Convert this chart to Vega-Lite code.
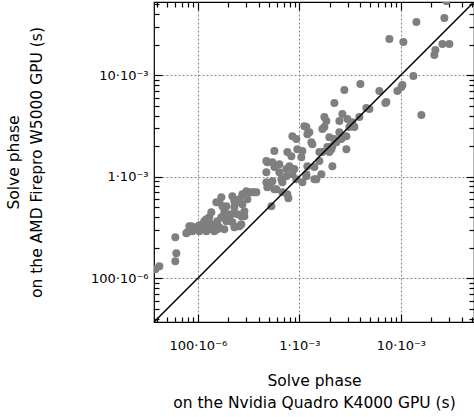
{
  "$schema": "https://vega.github.io/schema/vega-lite/v6.json",
  "width": 320,
  "height": 320,
  "autosize": {"type": "none"},
  "padding": {"left": 154, "top": 2, "right": 0, "bottom": 95},
  "background": "white",
  "config": {
    "view": {"stroke": "#000", "strokeWidth": 1.2},
    "axis": {
      "labelFont": "DejaVu Sans",
      "titleFont": "DejaVu Sans",
      "labelFontSize": 13,
      "titleFontSize": 15.5,
      "titleFontWeight": "normal",
      "labelColor": "#000",
      "titleColor": "#000",
      "tickColor": "#000",
      "tickWidth": 1.2
    }
  },
  "datasets": {
    "pts": [
      {"k": 3.81e-5, "a": 1.227e-4},
      {"k": 4.18e-5, "a": 1.313e-4},
      {"k": 6.00e-5, "a": 2.535e-4},
      {"k": 6.14e-5, "a": 1.763e-4},
      {"k": 6.00e-5, "a": 1.471e-4},
      {"k": 7.70e-5, "a": 2.776e-4},
      {"k": 8.63e-5, "a": 3.254e-4},
      {"k": 8.83e-5, "a": 2.905e-4},
      {"k": 1.159e-4, "a": 3.644e-4},
      {"k": 1.159e-4, "a": 3.040e-4},
      {"k": 1.240e-4, "a": 3.563e-4},
      {"k": 1.389e-4, "a": 3.404e-4},
      {"k": 1.454e-4, "a": 2.905e-4},
      {"k": 1.628e-4, "a": 3.181e-4},
      {"k": 1.909e-4, "a": 3.644e-4},
      {"k": 2.187e-4, "a": 3.563e-4},
      {"k": 2.564e-4, "a": 3.254e-4},
      {"k": 1.035e-4, "a": 3.329e-4},
      {"k": 1.298e-4, "a": 3.990e-4},
      {"k": 9.45e-5, "a": 3.181e-4},
      {"k": 1.213e-4, "a": 3.813e-4},
      {"k": 1.522e-4, "a": 5.607e-4},
      {"k": 1.704e-4, "a": 6.281e-4},
      {"k": 1.744e-4, "a": 5.121e-4},
      {"k": 1.824e-4, "a": 4.469e-4},
      {"k": 2.187e-4, "a": 6.426e-4},
      {"k": 2.289e-4, "a": 5.006e-4},
      {"k": 2.564e-4, "a": 6.003e-4},
      {"k": 2.744e-4, "a": 6.724e-4},
      {"k": 3.217e-4, "a": 7.036e-4},
      {"k": 3.604e-4, "a": 7.036e-4},
      {"k": 2.683e-4, "a": 3.404e-4},
      {"k": 2.683e-4, "a": 4.082e-4},
      {"k": 2.043e-4, "a": 3.813e-4},
      {"k": 1.556e-4, "a": 3.040e-4},
      {"k": 1.909e-4, "a": 5.121e-4},
      {"k": 1.628e-4, "a": 5.607e-4},
      {"k": 2.289e-4, "a": 5.736e-4},
      {"k": 2.744e-4, "a": 5.359e-4},
      {"k": 2.872e-4, "a": 4.082e-4},
      {"k": 1.358e-4, "a": 4.469e-4},
      {"k": 1.953e-4, "a": 4.271e-4},
      {"k": 4.731e-4, "a": 1.107e-3},
      {"k": 4.839e-4, "a": 1.389e-3},
      {"k": 5.672e-4, "a": 1.241e-3},
      {"k": 6.353e-4, "a": 1.328e-3},
      {"k": 7.447e-4, "a": 1.186e-3},
      {"k": 6.648e-4, "a": 9.449e-4},
      {"k": 5.064e-4, "a": 8.060e-4},
      {"k": 5.672e-4, "a": 7.531e-4},
      {"k": 6.801e-4, "a": 7.036e-4},
      {"k": 5.299e-4, "a": 5.121e-4},
      {"k": 3.005e-4, "a": 7.197e-4},
      {"k": 3.443e-4, "a": 7.036e-4},
      {"k": 4.731e-4, "a": 8.829e-4},
      {"k": 5.420e-4, "a": 9.032e-4},
      {"k": 5.935e-4, "a": 7.531e-4},
      {"k": 7.618e-4, "a": 6.724e-4},
      {"k": 6.353e-4, "a": 1.107e-3},
      {"k": 7.447e-4, "a": 1.011e-3},
      {"k": 8.533e-4, "a": 1.058e-3},
      {"k": 4.731e-4, "a": 1.422e-3},
      {"k": 5.420e-4, "a": 1.389e-3},
      {"k": 7.972e-4, "a": 1.269e-3},
      {"k": 8.929e-4, "a": 1.186e-3},
      {"k": 5.672e-4, "a": 1.784e-3},
      {"k": 7.618e-4, "a": 1.744e-3},
      {"k": 8.342e-4, "a": 1.592e-3},
      {"k": 9.557e-4, "a": 1.866e-3},
      {"k": 1.046e-3, "a": 1.556e-3},
      {"k": 1.199e-3, "a": 1.269e-3},
      {"k": 1.405e-3, "a": 1.241e-3},
      {"k": 1.574e-3, "a": 1.422e-3},
      {"k": 1.685e-3, "a": 1.744e-3},
      {"k": 1.888e-3, "a": 1.953e-3},
      {"k": 1.471e-3, "a": 9.449e-4},
      {"k": 1.172e-3, "a": 1.011e-3},
      {"k": 1.071e-3, "a": 8.829e-4},
      {"k": 8.533e-4, "a": 2.506e-3},
      {"k": 1.172e-3, "a": 3.074e-3},
      {"k": 1.199e-3, "a": 2.622e-3},
      {"k": 1.313e-3, "a": 2.187e-3},
      {"k": 1.764e-3, "a": 3.074e-3},
      {"k": 1.975e-3, "a": 2.450e-3},
      {"k": 1.845e-3, "a": 3.523e-3},
      {"k": 2.315e-3, "a": 2.187e-3},
      {"k": 9.342e-4, "a": 2.342e-3},
      {"k": 2.213e-3, "a": 5.299e-3},
      {"k": 2.652e-3, "a": 4.129e-3},
      {"k": 2.971e-3, "a": 3.686e-3},
      {"k": 3.254e-3, "a": 3.290e-3},
      {"k": 3.484e-3, "a": 3.074e-3},
      {"k": 2.905e-3, "a": 2.506e-3},
      {"k": 2.478e-3, "a": 2.744e-3},
      {"k": 2.213e-3, "a": 2.342e-3},
      {"k": 1.685e-3, "a": 2.938e-3},
      {"k": 1.255e-3, "a": 2.744e-3},
      {"k": 1.343e-3, "a": 2.090e-3},
      {"k": 2.067e-3, "a": 1.866e-3},
      {"k": 2.593e-3, "a": 2.342e-3},
      {"k": 2.905e-3, "a": 1.866e-3},
      {"k": 1.574e-3, "a": 1.744e-3},
      {"k": 1.071e-3, "a": 1.784e-3},
      {"k": 2.114e-3, "a": 1.998e-3},
      {"k": 3.990e-3, "a": 8.154e-3},
      {"k": 2.775e-3, "a": 7.117e-3},
      {"k": 6.141e-3, "a": 6.957e-3},
      {"k": 9.236e-3, "a": 6.957e-3},
      {"k": 7.197e-3, "a": 5.420e-3},
      {"k": 4.573e-3, "a": 4.731e-3},
      {"k": 1.764e-3, "a": 3.857e-3},
      {"k": 2.478e-3, "a": 3.523e-3},
      {"k": 3.900e-3, "a": 3.857e-3},
      {"k": 1.120e-3, "a": 3.144e-3},
      {"k": 1.975e-3, "a": 1.744e-3},
      {"k": 2.808e-2, "a": 5.359e-2},
      {"k": 1.422e-2, "a": 3.329e-2},
      {"k": 2.683e-2, "a": 3.644e-2},
      {"k": 7.702e-3, "a": 2.263e-2},
      {"k": 1.058e-2, "a": 2.114e-2},
      {"k": 2.564e-2, "a": 2.020e-2},
      {"k": 3.005e-2, "a": 2.020e-2},
      {"k": 2.187e-2, "a": 1.764e-2},
      {"k": 2.138e-2, "a": 1.574e-2},
      {"k": 1.328e-2, "a": 9.774e-3},
      {"k": 1.035e-2, "a": 7.972e-3},
      {"k": 1.011e-2, "a": 7.618e-3},
      {"k": 7.036e-3, "a": 5.299e-3},
      {"k": 1.592e-2, "a": 4.036e-3},
      {"k": 4.895e-3, "a": 4.624e-3},
      {"k": 7.793e-4, "a": 6.141e-4},
      {"k": 2.114e-3, "a": 1.269e-3},
      {"k": 1.647e-3, "a": 1.058e-3},
      {"k": 9.342e-4, "a": 9.449e-4},
      {"k": 2.395e-4, "a": 5.607e-4},
      {"k": 2.872e-4, "a": 4.573e-4},
      {"k": 3.074e-4, "a": 6.003e-4},
      {"k": 3.771e-4, "a": 7.036e-4},
      {"k": 2.138e-4, "a": 4.271e-4},
      {"k": 8.25e-5, "a": 3.254e-4},
      {"k": 7.88e-5, "a": 2.840e-4},
      {"k": 1.213e-4, "a": 2.905e-4},
      {"k": 3.329e-3, "a": 3.443e-3},
      {"k": 3.109e-3, "a": 3.074e-3},
      {"k": 1.172e-3, "a": 1.058e-3},
      {"k": 1.405e-3, "a": 9.449e-4},
      {"k": 6.801e-4, "a": 8.829e-4},
      {"k": 4.839e-4, "a": 7.879e-4},
      {"k": 1.107e-4, "a": 3.404e-4},
      {"k": 1.298e-4, "a": 3.040e-4},
      {"k": 1.556e-4, "a": 3.644e-4},
      {"k": 1.824e-4, "a": 3.040e-4},
      {"k": 2.289e-4, "a": 3.181e-4},
      {"k": 1.035e-4, "a": 2.905e-4},
      {"k": 2.450e-4, "a": 4.271e-4},
      {"k": 1.704e-4, "a": 3.990e-4}
    ],
    "diag": [
      {"k": 3.7e-5, "a": 3.7e-5},
      {"k": 0.0525, "a": 0.0525}
    ]
  },
  "layer": [
    {
      "data": {"name": "pts"},
      "mark": {"type": "circle", "size": 64, "color": "#7f7f7f", "opacity": 1, "clip": true},
      "encoding": {
        "x": {
          "field": "k", "type": "quantitative",
          "scale": {"type": "log", "domain": [3.7e-5, 0.0525], "nice": false},
          "axis": {
            "orient": "bottom",
            "title": ["Solve phase", "on the Nvidia Quadro K4000 GPU (s)"],
            "titlePadding": 21,
            "titleLineHeight": 22,
            "values": [0.0001, 0.001, 0.01],
            "labelExpr": "abs(datum.value-0.0001)<1e-9 ? '100·10⁻⁶' : (abs(datum.value-0.001)<1e-9 ? '1·10⁻³' : '10·10⁻³')",
            "domain": false,
            "tickSize": -8,
            "labelPadding": 25,
            "labelFlush": false,
            "labelOverlap": false,
            "grid": true, "gridColor": "#888", "gridDash": [2, 2], "gridWidth": 1
          }
        },
        "y": {
          "field": "a", "type": "quantitative",
          "scale": {"type": "log", "domain": [3.7e-5, 0.0525], "nice": false},
          "axis": {
            "orient": "left",
            "title": ["Solve phase", "on the AMD Firepro W5000 GPU (s)"],
            "titlePadding": 46,
            "titleLineHeight": 23,
            "values": [0.0001, 0.001, 0.01],
            "labelExpr": "abs(datum.value-0.0001)<1e-9 ? '100·10⁻⁶' : (abs(datum.value-0.001)<1e-9 ? '1·10⁻³' : '10·10⁻³')",
            "domain": false,
            "tickSize": -8,
            "labelPadding": 14,
            "labelFlush": false,
            "labelOverlap": false,
            "grid": true, "gridColor": "#888", "gridDash": [2, 2], "gridWidth": 1
          }
        }
      }
    },
    {
      "data": {"name": "diag"},
      "mark": {"type": "line", "color": "#000", "strokeWidth": 1.5, "clip": true},
      "encoding": {
        "x": {
          "field": "k", "type": "quantitative",
          "scale": {"type": "log", "domain": [3.7e-5, 0.0525], "nice": false},
          "axis": {"orient": "bottom", "title": null, "labels": false, "grid": false, "domain": false, "tickSize": -5,
            "values": [0.00004, 0.00005, 0.00006, 0.00007, 0.00008, 0.00009, 0.0002, 0.0003, 0.0004, 0.0005, 0.0006, 0.0007, 0.0008, 0.0009, 0.002, 0.003, 0.004, 0.005, 0.006, 0.007, 0.008, 0.009, 0.02, 0.03, 0.04, 0.05]}
        },
        "y": {
          "field": "a", "type": "quantitative",
          "scale": {"type": "log", "domain": [3.7e-5, 0.0525], "nice": false},
          "axis": {"orient": "left", "title": null, "labels": false, "grid": false, "domain": false, "tickSize": -5,
            "values": [0.00004, 0.00005, 0.00006, 0.00007, 0.00008, 0.00009, 0.0002, 0.0003, 0.0004, 0.0005, 0.0006, 0.0007, 0.0008, 0.0009, 0.002, 0.003, 0.004, 0.005, 0.006, 0.007, 0.008, 0.009, 0.02, 0.03, 0.04, 0.05]}
        }
      }
    },
    {
      "data": {"name": "diag"},
      "mark": {"type": "line", "strokeOpacity": 0},
      "encoding": {
        "x": {
          "field": "k", "type": "quantitative",
          "scale": {"type": "log", "domain": [3.7e-5, 0.0525], "nice": false},
          "axis": {"orient": "top", "title": null, "labels": false, "grid": false, "domain": false, "tickSize": -8, "values": [0.0001, 0.001, 0.01]}
        },
        "y": {
          "field": "a", "type": "quantitative",
          "scale": {"type": "log", "domain": [3.7e-5, 0.0525], "nice": false},
          "axis": {"orient": "right", "title": null, "labels": false, "grid": false, "domain": false, "tickSize": -8, "values": [0.0001, 0.001, 0.01]}
        }
      }
    },
    {
      "data": {"name": "diag"},
      "mark": {"type": "line", "strokeOpacity": 0},
      "encoding": {
        "x": {
          "field": "k", "type": "quantitative",
          "scale": {"type": "log", "domain": [3.7e-5, 0.0525], "nice": false},
          "axis": {"orient": "top", "title": null, "labels": false, "grid": false, "domain": false, "tickSize": -5,
            "values": [0.00004, 0.00005, 0.00006, 0.00007, 0.00008, 0.00009, 0.0002, 0.0003, 0.0004, 0.0005, 0.0006, 0.0007, 0.0008, 0.0009, 0.002, 0.003, 0.004, 0.005, 0.006, 0.007, 0.008, 0.009, 0.02, 0.03, 0.04, 0.05]}
        },
        "y": {
          "field": "a", "type": "quantitative",
          "scale": {"type": "log", "domain": [3.7e-5, 0.0525], "nice": false},
          "axis": {"orient": "right", "title": null, "labels": false, "grid": false, "domain": false, "tickSize": -5,
            "values": [0.00004, 0.00005, 0.00006, 0.00007, 0.00008, 0.00009, 0.0002, 0.0003, 0.0004, 0.0005, 0.0006, 0.0007, 0.0008, 0.0009, 0.002, 0.003, 0.004, 0.005, 0.006, 0.007, 0.008, 0.009, 0.02, 0.03, 0.04, 0.05]}
        }
      }
    }
  ],
  "resolve": {"axis": {"x": "independent", "y": "independent"}}
}
